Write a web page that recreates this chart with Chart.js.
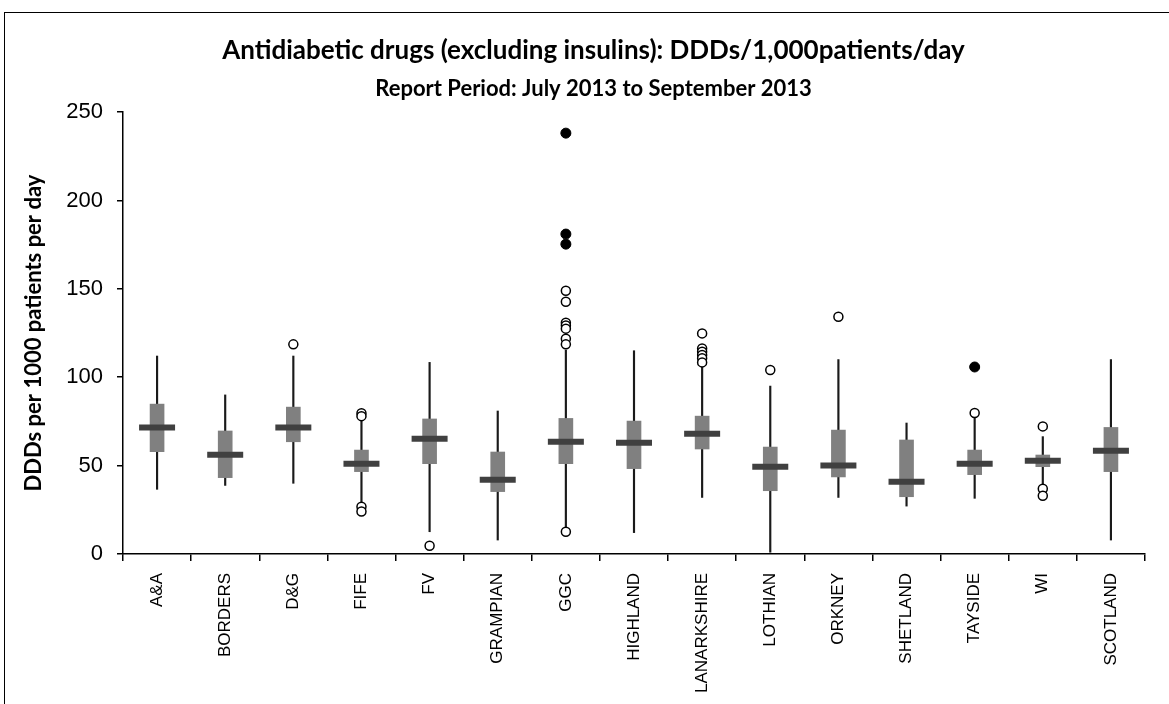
<!DOCTYPE html>
<html>
<head>
<meta charset="utf-8">
<title>Antidiabetic drugs - DDDs per 1000 patients per day</title>
<script src="https://cdn.jsdelivr.net/npm/chart.js@4.4.1/dist/chart.umd.min.js"></script>
<style>
  html, body { margin: 0; padding: 0; background: #fff; }
</style>
</head>
<body>
<canvas id="chart" width="1169" height="704"></canvas>
<script>
// health boards along the x axis
const boards = ["A&A", "BORDERS", "D&G", "FIFE", "FV", "GRAMPIAN", "GGC", "HIGHLAND",
  "LANARKSHIRE", "LOTHIAN", "ORKNEY", "SHETLAND", "TAYSIDE", "WI", "SCOTLAND"];

// box plot summary
const whiskerLow  = [36.6, 38.8, 40.0, 28.0, 12.6, 7.9, 15.0, 12.1, 32.0, 1.0, 32.0, 27.1, 31.5, 36.2, 7.9];
const lowerQuart  = [57.9, 43.2, 63.5, 46.6, 51.1, 35.3, 51.1, 48.3, 59.4, 35.8, 43.6, 32.4, 44.9, 49.4, 46.6];
const medians     = [71.5, 56.2, 71.5, 51.1, 65.2, 42.0, 63.5, 63.0, 68.0, 49.4, 50.0, 40.9, 51.1, 52.8, 58.4];
const upperQuart  = [84.8, 69.6, 83.1, 58.8, 76.4, 57.7, 76.7, 75.2, 78.0, 60.5, 70.1, 64.5, 58.8, 56.0, 71.6];
const whiskerHigh = [112.0, 90.0, 112.0, 77.0, 108.4, 80.9, 115.4, 115.0, 106.0, 95.0, 110.0, 74.1, 77.7, 66.4, 110.0];

// outliers (open circles) and extreme values (filled)
const outliers = [
  ["D&G", 118.6],
  ["FIFE", 79.6], ["FIFE", 78.0], ["FIFE", 26.8], ["FIFE", 24.0],
  ["FV", 4.7],
  ["GGC", 148.9], ["GGC", 142.7], ["GGC", 130.8], ["GGC", 129.3], ["GGC", 127.5],
  ["GGC", 121.8], ["GGC", 118.6], ["GGC", 12.6],
  ["LANARKSHIRE", 124.8], ["LANARKSHIRE", 116.3], ["LANARKSHIRE", 114.4],
  ["LANARKSHIRE", 112.6], ["LANARKSHIRE", 110.7], ["LANARKSHIRE", 108.4],
  ["LOTHIAN", 104.1],
  ["ORKNEY", 134.2],
  ["TAYSIDE", 79.8],
  ["WI", 72.2], ["WI", 36.9], ["WI", 33.0]
];
const extremes = [["GGC", 238.1], ["GGC", 181.0], ["GGC", 175.3], ["TAYSIDE", 105.8]];

const yTicks = [0, 50, 100, 150, 200, 250];

const narrowBold = "Lato, 'Liberation Sans', sans-serif";
const arial = "'Liberation Sans', Arial, sans-serif";

// white page with the black frame round the chart
const framePlugin = {
  id: "frame",
  beforeDraw(chart) {
    const ctx = chart.ctx;
    ctx.save();
    ctx.fillStyle = "#fff";
    ctx.fillRect(0, 0, chart.width, chart.height);
    ctx.strokeStyle = "#000";
    ctx.lineWidth = 1;
    ctx.strokeRect(4.5, 12.5, chart.width + 20, chart.height + 20);
    ctx.restore();
  }
};

const toPoints = (list) => list.map(([b, v]) => ({ x: b, y: v }));

new Chart(document.getElementById("chart"), {
  type: "bar",
  data: {
    labels: boards,
    datasets: [
      {
        label: "whisker",
        data: boards.map((b, i) => [whiskerLow[i], whiskerHigh[i]]),
        backgroundColor: "#1a1a1a",
        barThickness: 1.5,
        grouped: false,
        order: 5
      },
      {
        label: "box",
        data: boards.map((b, i) => [lowerQuart[i], upperQuart[i]]),
        backgroundColor: "#808080",
        barThickness: 14,
        grouped: false,
        order: 4
      },
      {
        type: "line",
        label: "median",
        data: medians,
        showLine: false,
        pointStyle: "line",
        pointRadius: 18,
        pointBorderWidth: 6,
        pointBorderColor: "#404040",
        order: 3
      },
      {
        type: "line",
        label: "outliers",
        data: toPoints(outliers),
        showLine: false,
        pointRadius: 4.5,
        pointBorderWidth: 1.5,
        pointBackgroundColor: "#fff",
        pointBorderColor: "#000",
        order: 2
      },
      {
        type: "line",
        label: "extremes",
        data: toPoints(extremes),
        showLine: false,
        pointRadius: 5,
        pointBorderWidth: 1,
        pointBackgroundColor: "#000",
        pointBorderColor: "#000",
        order: 1
      }
    ]
  },
  options: {
    responsive: false,
    animation: false,
    events: [],
    layout: { padding: { left: 24, right: 6, top: 0, bottom: 0 } },
    plugins: {
      legend: { display: false },
      tooltip: { enabled: false },
      title: {
        display: true,
        text: "Antidiabetic drugs (excluding insulins): DDDs/1,000patients/day",
        color: "#000",
        font: { family: narrowBold, size: 26, weight: "bold" },
        padding: { top: 35, bottom: 0 }
      },
      subtitle: {
        display: true,
        text: "Report Period: July 2013 to September 2013",
        color: "#000",
        font: { family: narrowBold, size: 22, weight: "bold" },
        padding: { top: 10, bottom: 9.5 }
      }
    },
    scales: {
      x: {
        offset: true,
        grid: { offset: true, drawOnChartArea: false, drawTicks: true, tickLength: 7, color: "#000", lineWidth: 1.5 },
        border: { color: "#000", width: 1.5 },
        ticks: { color: "#000", font: { family: arial, size: 17 }, minRotation: 90, maxRotation: 90, autoSkip: false, padding: 12 },
        afterFit(scale) { scale.height = 150; }
      },
      y: {
        min: 0,
        max: 250,
        afterBuildTicks(scale) { scale.ticks = yTicks.map(v => ({ value: v })); },
        grid: { drawOnChartArea: false, drawTicks: true, tickLength: 6, color: "#000", lineWidth: 1.5 },
        border: { color: "#000", width: 1.5 },
        ticks: { color: "#000", font: { family: arial, size: 22 }, padding: 14 },
        title: {
          display: true,
          text: "DDDs per 1000 patients per day",
          color: "#000",
          font: { family: narrowBold, size: 22, weight: "bold" },
          padding: { top: -3, bottom: 0 }
        },
        afterFit(scale) { scale.width = 99; }
      }
    }
  },
  plugins: [framePlugin]
});
</script>
</body>
</html>
